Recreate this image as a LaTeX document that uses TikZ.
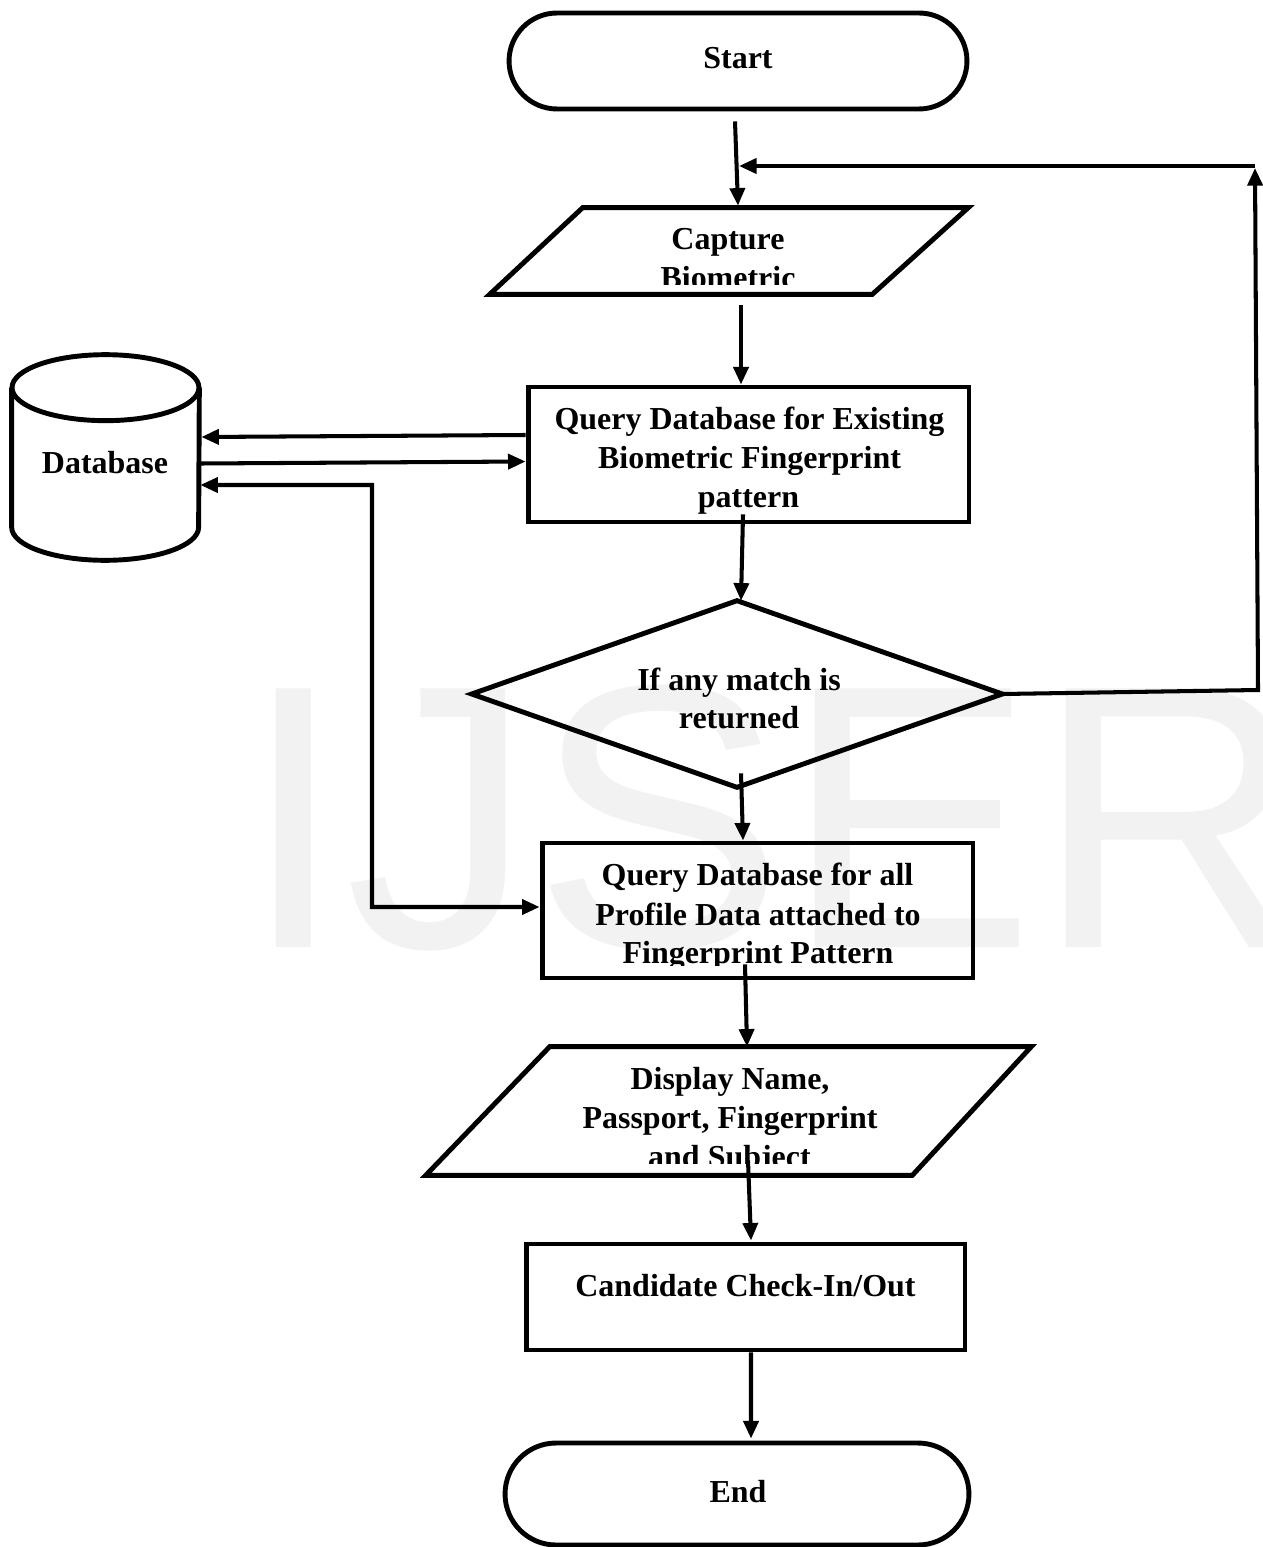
\documentclass[tikz,border=0pt]{standalone}
\usepackage{fontspec}
\setmainfont{Liberation Serif}
\newfontfamily\wmfont{Liberation Sans}
\usetikzlibrary{arrows.meta,calc,shapes.misc}

\begin{document}
\begin{tikzpicture}[x=0.02cm, y=-0.02cm,
  shapeline/.style={line width=2.8pt, line join=miter},
  box/.style={draw, line width=2.8pt, rectangle, inner sep=0pt},
  ghost/.style={rectangle, draw=none, inner sep=0pt},
  term/.style={draw, line width=2.8pt, rounded rectangle, inner sep=0pt},
  tip/.style={Triangle[length=10pt,width=8.5pt]},
  flow/.style={line width=2.3pt, -{Triangle[length=10pt,width=8.5pt]}},
  both/.style={line width=2.3pt, {Triangle[length=10pt,width=8.5pt]}-{Triangle[length=10pt,width=8.5pt]}},
  lbl/.style={font=\bfseries\fontsize{18.2}{22}\selectfont, inner sep=0pt, anchor=base},
]
\clip (0,0) rectangle (1263,1547);

% faint watermark behind the chart
\node[anchor=base west, inner sep=0pt, text=black!5,
      font=\wmfont\fontsize{214}{214}\selectfont] (wm) at (241,947) {IJSER};

% ---- shapes ----
\node[term, minimum width=9.16cm, minimum height=1.92cm] (start) at (738,61) {};

\node[ghost, minimum width=9.56cm, minimum height=1.72cm] (cap) at (729,251) {};
\draw[shapeline] ($(cap.north west)+(93,0)$) -- (cap.north east)
  -- ($(cap.south east)+(-96,0)$) -- (cap.south west) -- cycle;

\node[box, minimum width=8.82cm, minimum height=2.7cm] (q1) at (748.5,454.5) {};

\node[ghost, minimum width=3.74cm, minimum height=4.1cm] (db) at (105.5,457.5) {};
\draw[shapeline] ($(db.north west)+(0,33)$) -- ($(db.south west)+(0,-33)$)
  arc[start angle=180, end angle=360, x radius=1.87cm, y radius=0.66cm]
  -- ($(db.north east)+(0,33)$);
\draw[shapeline] ($(db.north)+(0,33)$) ellipse[x radius=1.87cm, y radius=0.66cm];

\node[ghost, minimum width=10.6cm, minimum height=3.72cm] (dia) at (737,694) {};
\draw[shapeline] (dia.west) -- (dia.north) -- (dia.east) -- (dia.south) -- cycle;

\node[box, minimum width=8.62cm, minimum height=2.7cm] (q2) at (757.5,910.5) {};

\node[ghost, minimum width=12.1cm, minimum height=2.56cm] (disp) at (728.5,1111) {};
\draw[shapeline] ($(disp.north west)+(124,0)$) -- (disp.north east)
  -- ($(disp.south east)+(-119,0)$) -- (disp.south west) -- cycle;

\node[box, minimum width=8.78cm, minimum height=2.12cm] (cand) at (745.5,1297) {};

\node[term, minimum width=9.28cm, minimum height=2.04cm] (stop) at (737,1494) {};

% ---- texts ----
\node[lbl] (tstart) at (738,69) {Start};
\begin{scope}
  \clip (400,200) rectangle (1000,285);
  \node[lbl] (tcap1) at (728,250) {Capture};
  \node[lbl] (tcap2) at (728,289) {Biometric};
\end{scope}
\node[lbl] (tq1a) at (749.5,429) {Query Database for Existing};
\node[lbl] (tq1b) at (749.5,468) {Biometric Fingerprint};
\node[lbl] (tq1c) at (748.5,507) {pattern};
\node[lbl] (tdb) at (105,473) {Database};
\node[lbl] (tdia1) at (739,690) {If any match is};
\node[lbl] (tdia2) at (739,728) {returned};
\begin{scope}
  \clip (545,845) rectangle (970,965);
  \node[lbl] (tq2a) at (757.5,885) {Query Database for all};
  \node[lbl] (tq2b) at (758,925) {Profile Data attached to};
  \node[lbl] (tq2c) at (758,963) {Fingerprint Pattern};
\end{scope}
\begin{scope}
  \clip (430,1050) rectangle (1030,1163);
  \node[lbl] (tdisp1) at (730,1089) {Display Name,};
  \node[lbl] (tdisp2) at (730,1128) {Passport, Fingerprint};
  \node[lbl] (tdisp3) at (729.5,1167) {and Subject};
\end{scope}
\node[lbl] (tcand) at (745.5,1296) {Candidate Check-In/Out};
\node[lbl] (tend) at (738,1502) {End};

% ---- connectors ----
\coordinate (join) at (739,166);
\coordinate (rb) at (1258,690);
\coordinate (rt) at (1255,166);
\coordinate (lk1) at (372,907);
\coordinate (lk2) at (372,485);

\draw[flow] ($(start.south)+(-3,10)$) -- ($(cap.north)+(9,-2)$);
\draw[flow] ($(cap.south)+(12,11)$) -- ($(q1.north)+(-7.5,0)$);
\draw[flow] ($(q1.west)+(0,-19.5)$) -- ($(db.east)+(2,-20.5)$);
\draw[flow] ($(db.east)+(1,6)$) -- ($(q1.west)+(0,7)$);
\draw[both] ($(q2.west)+(0,-3.5)$) -- (lk1) -- (lk2) -- ($(db.east)+(1,27.5)$);
\draw[flow] ($(q1.south)+(-5.5,-10)$) -- ($(dia.north)+(4,0)$);
\draw[flow] ($(dia.south)+(4,-14)$) -- ($(q2.north)+(-14.5,0)$);
\draw[flow] ($(q2.south)+(-12.5,-16)$) -- ($(disp.north)+(18.5,0)$);
\draw[flow] ($(disp.south)+(19.5,-15)$) -- ($(cand.north)+(5.5,-1)$);
\draw[flow] ($(cand.south)+(5.5,0)$) -- ($(stop.north)+(14,-2)$);
\draw[flow] (dia.east) -- (rb) -- ($(rt)+(0,2)$);
\draw[flow] (rt) -- (join);
\end{tikzpicture}
\end{document}
